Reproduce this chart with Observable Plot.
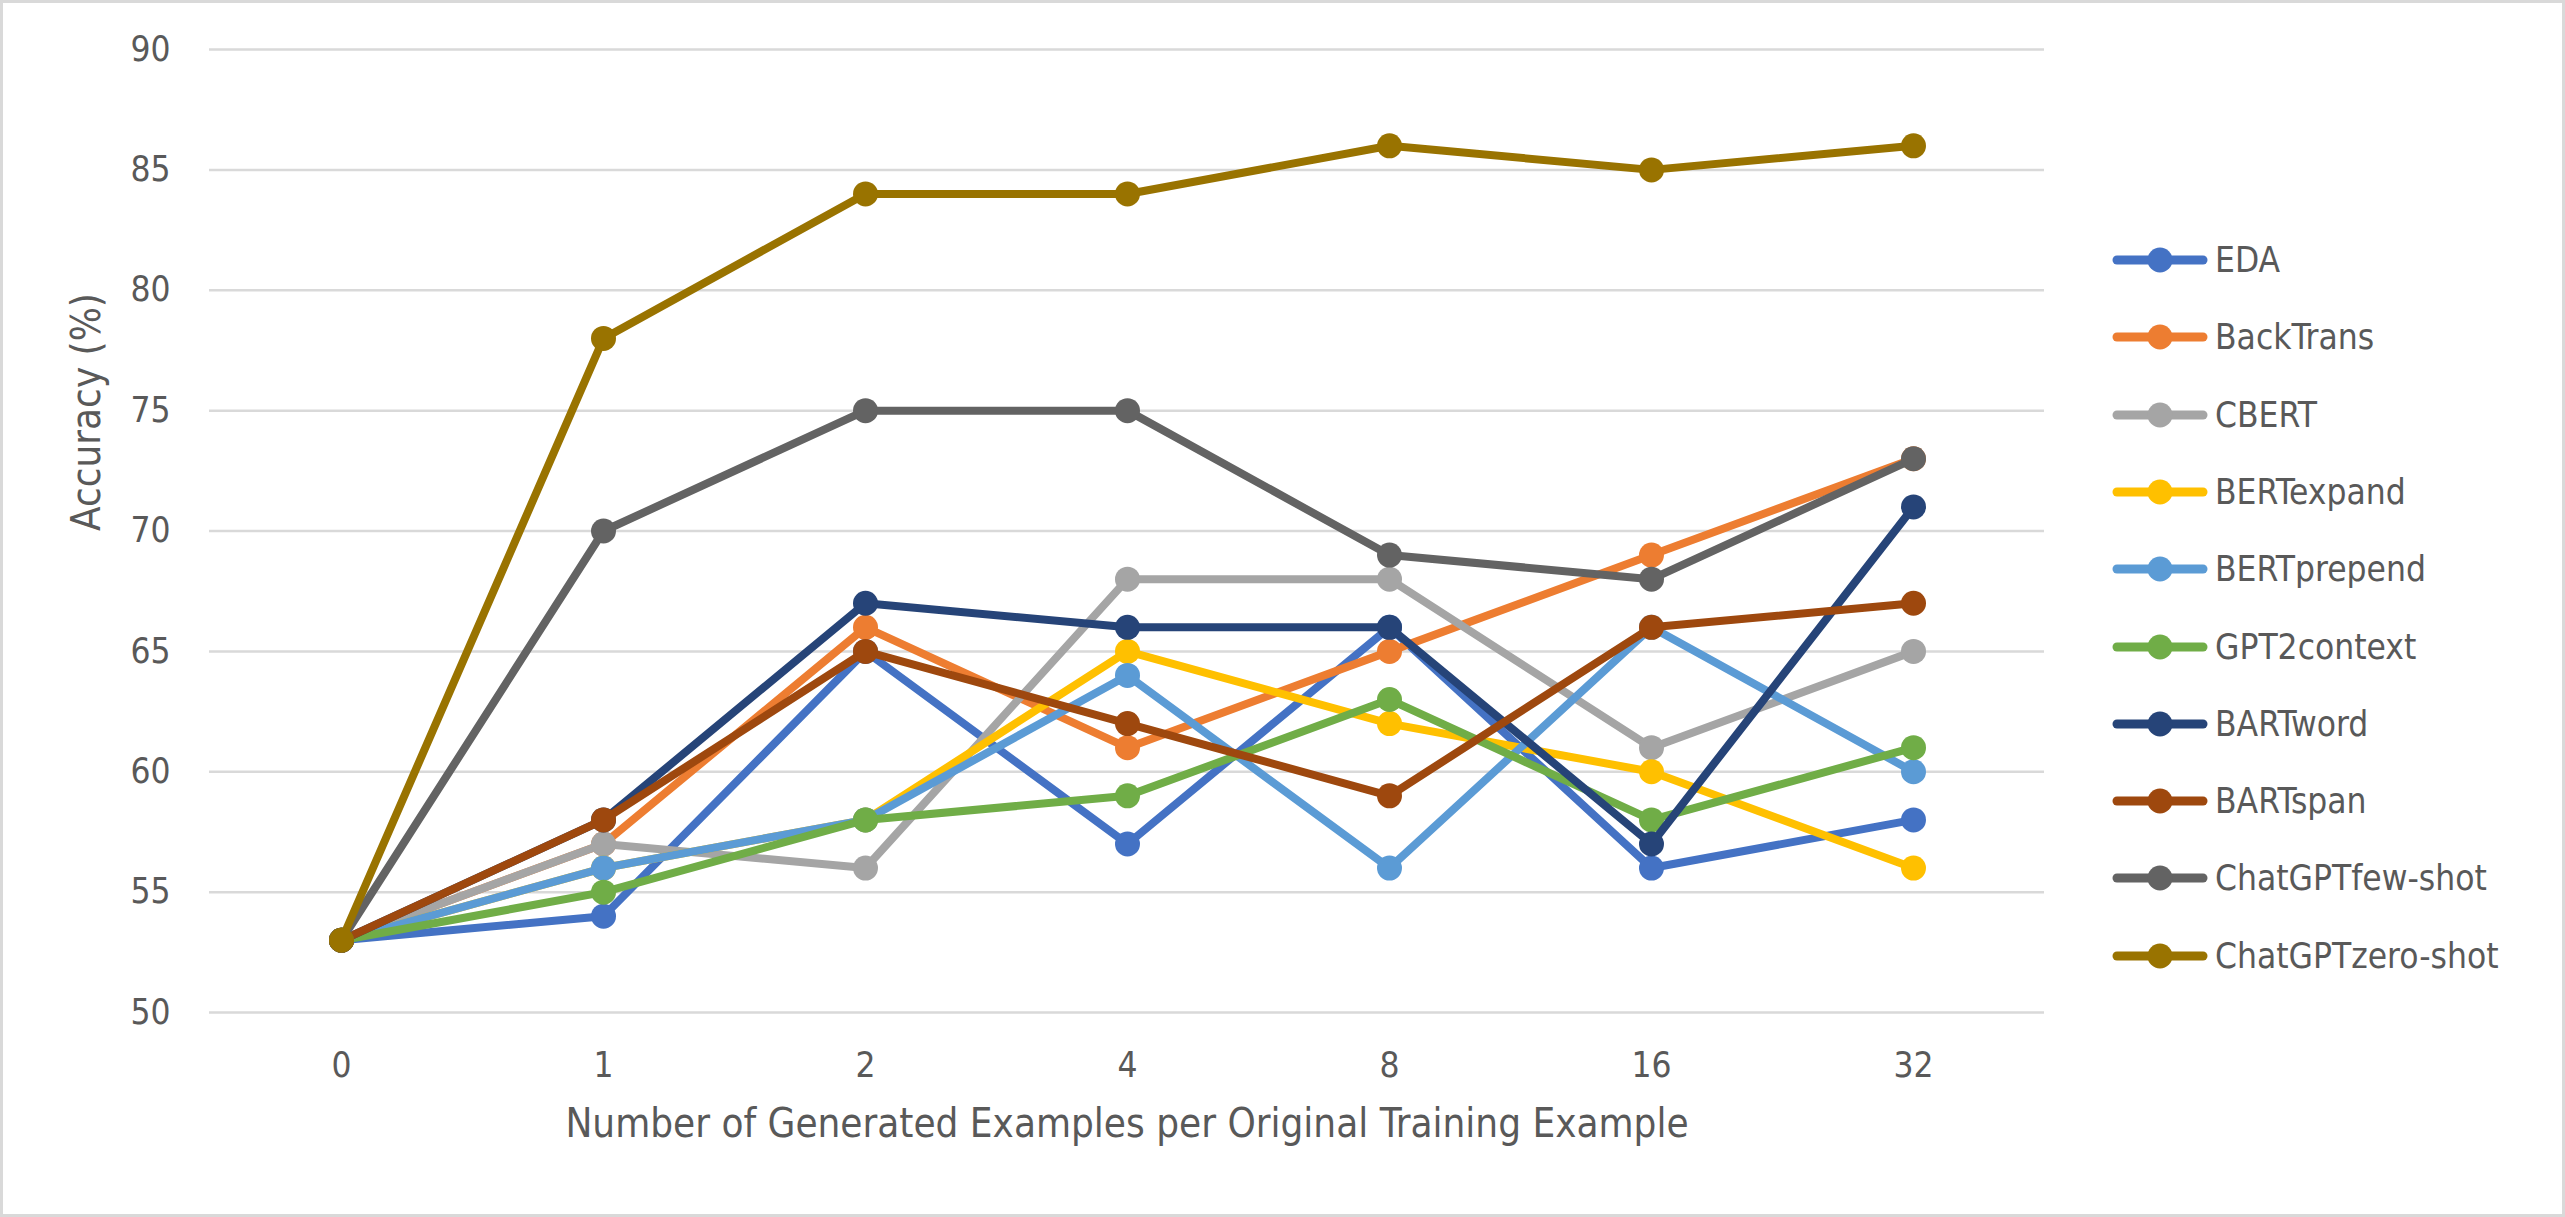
<!DOCTYPE html>
<html>
<head>
<meta charset="utf-8">
<script src="https://cdn.jsdelivr.net/npm/d3@7"></script>
<script src="https://cdn.jsdelivr.net/npm/@observablehq/plot@0.6"></script>
<style>
html, body { margin: 0; padding: 0; background: #fff; }
#wrap { position: relative; width: 2565px; height: 1217px; overflow: hidden;
  font-family: "Liberation Sans Narrow", "DejaVu Sans Condensed", Lato, sans-serif; }
#chart { position: absolute; left: 0; top: 0; }
#frame { position: absolute; left: 0; top: 0; width: 2565px; height: 1217px; box-sizing: border-box;
  border: 3px solid #d9d9d9; pointer-events: none; }
#legend { position: absolute; left: 2112px; top: 0; }
.item { position: absolute; left: 0; height: 40px; display: flex; align-items: center; white-space: nowrap;
  color: #595959; font-size: 35px; }
.item span { margin-left: 7px; }
</style>
</head>
<body>
<div id="wrap">
  <div id="chart"></div>
  <div id="legend"></div>
  <div id="frame"></div>
</div>
<script>
const xLabels = ["0", "1", "2", "4", "8", "16", "32"];
const seriesNames = ["EDA", "BackTrans", "CBERT", "BERTexpand", "BERTprepend", "GPT2context", "BARTword", "BARTspan", "ChatGPTfew-shot", "ChatGPTzero-shot"];
const seriesColors = ["#4472C4", "#ED7D31", "#A5A5A5", "#FFC000", "#5B9BD5", "#70AD47", "#264478", "#9E480E", "#636363", "#997300"];
const EDA = [53, 54, 65, 57, 66, 56, 58];
const BackTrans = [53, 57, 66, 61, 65, 69, 73];
const CBERT = [53, 57, 56, 68, 68, 61, 65];
const BERTexpand = [53, 56, 58, 65, 62, 60, 56];
const BERTprepend = [53, 56, 58, 64, 56, 66, 60];
const GPT2context = [53, 55, 58, 59, 63, 58, 61];
const BARTword = [53, 58, 67, 66, 66, 57, 71];
const BARTspan = [53, 58, 65, 62, 59, 66, 67];
const ChatGPTfewShot = [53, 70, 75, 75, 69, 68, 73];
const ChatGPTzeroShot = [53, 78, 84, 84, 86, 85, 86];
const yTicks = [50, 55, 60, 65, 70, 75, 80, 85, 90];
const xTitle = "Number of Generated Examples per Original Training Example";
const yTitle = "Accuracy (%)";

const seriesValues = [EDA, BackTrans, CBERT, BERTexpand, BERTprepend, GPT2context, BARTword, BARTspan, ChatGPTfewShot, ChatGPTzeroShot];

const marks = [
  Plot.ruleY(yTicks, {stroke: "#d9d9d9", strokeWidth: 2.5})
];
seriesNames.forEach((name, i) => {
  const rows = xLabels.map((x, j) => ({series: name, x, y: seriesValues[i][j]}));
  marks.push(Plot.line(rows, {x: "x", y: "y", stroke: seriesColors[i], strokeWidth: 8, strokeLinejoin: "round", strokeLinecap: "round"}));
  marks.push(Plot.dot(rows, {x: "x", y: "y", fill: seriesColors[i], r: 12.5, stroke: "none"}));
});
marks.push(
  Plot.axisY(yTicks, {tickSize: 0, tickPadding: 39, fontSize: 35, fill: "#595959"}),
  Plot.axisX({tickSize: 0, tickPadding: 40, fontSize: 35, fill: "#595959"}),
  Plot.text([xTitle], {frameAnchor: "bottom", dy: 124, fontSize: 40, fill: "#595959"}),
  Plot.text([yTitle], {frameAnchor: "left", dx: -122, rotate: -90, fontSize: 40, fill: "#595959"})
);

const chart = Plot.plot({
  width: 2090,
  height: 1217,
  marginLeft: 209,
  marginRight: 46,
  marginTop: 49,
  marginBottom: 205,
  style: {fontFamily: '"Liberation Sans Narrow", "DejaVu Sans Condensed", Lato, sans-serif', color: "#595959", background: "transparent"},
  x: {type: "point", domain: xLabels, padding: 0.5, label: null},
  y: {domain: [50, 90], label: null},
  marks
});
document.getElementById("chart").appendChild(chart);

const legend = document.getElementById("legend");
seriesNames.forEach((name, i) => {
  const cy = 260 + i * 77.3;
  const item = document.createElement("div");
  item.className = "item";
  item.style.top = (cy - 20) + "px";
  item.innerHTML = `<svg width="96" height="40"><line x1="5" y1="20" x2="91" y2="20" stroke="${seriesColors[i]}" stroke-width="9" stroke-linecap="round"/><circle cx="48" cy="20" r="12.5" fill="${seriesColors[i]}"/></svg><span>${name}</span>`;
  legend.appendChild(item);
});
</script>
</body>
</html>
